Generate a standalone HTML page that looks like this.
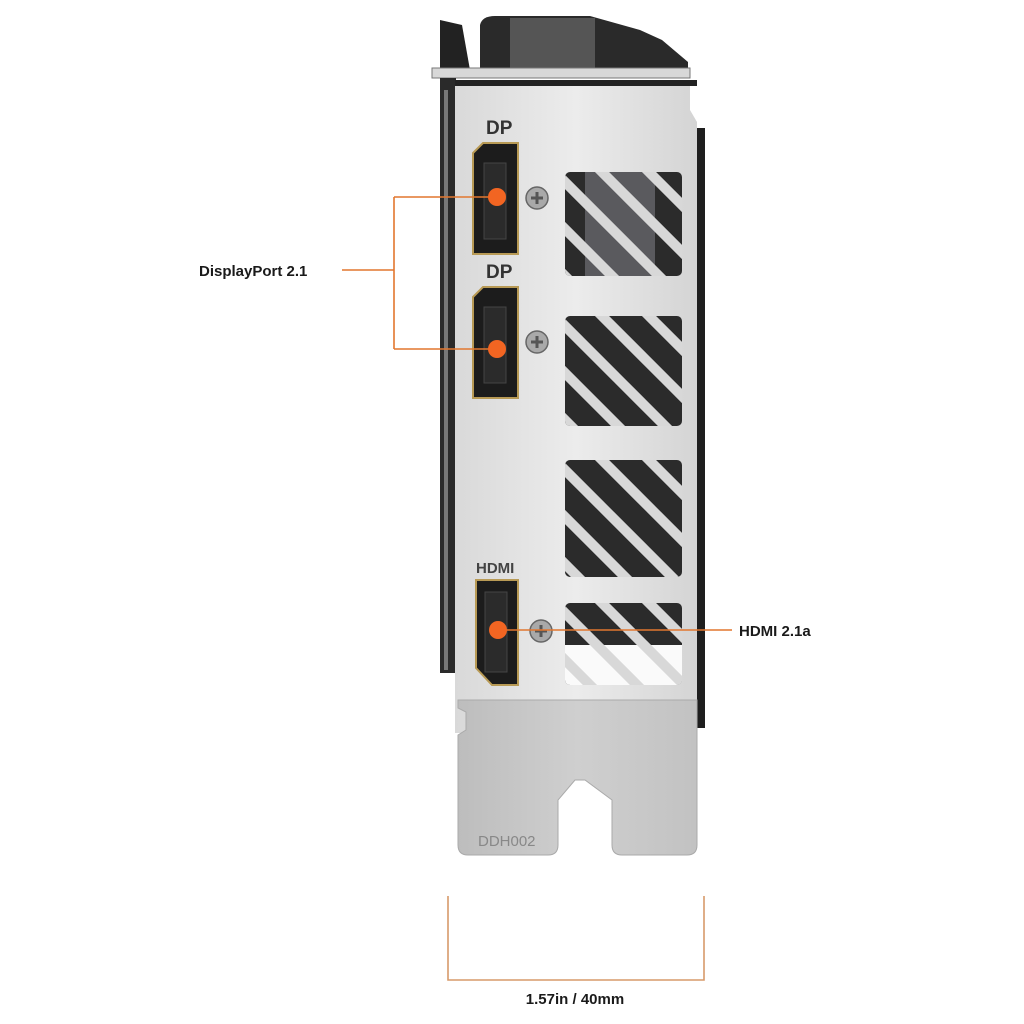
<!DOCTYPE html>
<html><head><meta charset="utf-8"><style>
html,body{margin:0;padding:0;background:#fff;}
svg{display:block}
text{font-family:"Liberation Sans",sans-serif;font-weight:bold;fill:#1a1a1a}
</style></head><body>
<svg width="1024" height="1024" viewBox="0 0 1024 1024" xmlns="http://www.w3.org/2000/svg">
<defs>
<linearGradient id="plate" x1="0" x2="1" y1="0" y2="0">
<stop offset="0" stop-color="#d9d9d9"/><stop offset="0.5" stop-color="#ececec"/><stop offset="1" stop-color="#d4d4d4"/>
</linearGradient>
<linearGradient id="low" x1="0" x2="1">
<stop offset="0" stop-color="#bdbdbd"/><stop offset="0.5" stop-color="#cfcfcf"/><stop offset="1" stop-color="#c2c2c2"/>
</linearGradient>
<g id="bars">
<line x1="-50" y1="-40" x2="200" y2="210" />
<line x1="-50" y1="-87" x2="200" y2="163" />
<line x1="-50" y1="-134" x2="200" y2="116" />
<line x1="-50" y1="7" x2="200" y2="257" />
<line x1="-50" y1="54" x2="200" y2="304" />
</g>
<clipPath id="v1"><rect x="565" y="172" width="117" height="104" rx="5"/></clipPath>
<clipPath id="v2"><rect x="565" y="316" width="117" height="110" rx="5"/></clipPath>
<clipPath id="v3"><rect x="565" y="460" width="117" height="117" rx="5"/></clipPath>
<clipPath id="v4"><rect x="565" y="603" width="117" height="82" rx="5"/></clipPath>
</defs>

<!-- top shroud -->
<path d="M440 20 L462 25 L470 70 L440 70 Z" fill="#222"/>
<path d="M480 25 Q482 16 495 16 L590 16 L640 30 L662 40 L688 62 L688 72 L480 72 Z" fill="#2a2a2a"/>
<rect x="510" y="18" width="85" height="52" fill="#555"/>
<rect x="432" y="68" width="258" height="10" fill="#d8d8d8" stroke="#777" stroke-width="1"/>
<!-- left black strip -->
<rect x="440" y="78" width="16" height="595" fill="#2a2a2a"/>
<rect x="444" y="90" width="4" height="580" fill="#777"/>
<!-- right dark edge -->
<rect x="697" y="128" width="8" height="600" fill="#1e1e1e"/>
<!-- main plate -->
<path d="M455 80 L690 80 L690 110 L697 122 L697 733 L455 733 Z" fill="url(#plate)"/>
<rect x="455" y="80" width="242" height="6" fill="#222"/>
<!-- lower plate -->
<path d="M458 700 L697 700 L697 845 Q697 855 687 855 L622 855 Q612 855 612 845 L612 800 L585 780 L575 780 L558 800 L558 845 Q558 855 548 855 L468 855 Q458 855 458 845 L458 735 L466 730 L466 712 L458 708 Z" fill="url(#low)" stroke="#aaa" stroke-width="1"/>
<text x="478" y="846" font-size="15" style="font-weight:normal;fill:#888">DDH002</text>

<!-- vents -->
<g stroke="#d8d8d8" stroke-width="10">
<g clip-path="url(#v1)"><rect x="565" y="172" width="117" height="104" fill="#2b2b2b" stroke="none"/><rect x="585" y="172" width="70" height="104" fill="#5a5a5e" stroke="none"/><use href="#bars" transform="translate(565,172)"/></g>
<g clip-path="url(#v2)"><rect x="565" y="316" width="117" height="110" fill="#2b2b2b" stroke="none"/><use href="#bars" transform="translate(565,316)"/></g>
<g clip-path="url(#v3)"><rect x="565" y="460" width="117" height="117" fill="#2b2b2b" stroke="none"/><use href="#bars" transform="translate(565,460)"/></g>
<g clip-path="url(#v4)"><rect x="565" y="603" width="117" height="82" fill="#2b2b2b" stroke="none"/><rect x="565" y="645" width="117" height="40" fill="#fafafa" stroke="none"/><use href="#bars" transform="translate(565,603)"/></g>
</g>

<!-- ports -->
<g>
<text x="486" y="134" font-size="19" style="fill:#333">DP</text>
<path d="M473 153 L483 143 L518 143 L518 254 L473 254 Z" fill="#1c1c1c" stroke="#b89a55" stroke-width="2"/>
<rect x="484" y="163" width="22" height="76" fill="#2b2b2b" stroke="#444"/>
<text x="486" y="278" font-size="19" style="fill:#333">DP</text>
<path d="M473 297 L483 287 L518 287 L518 398 L473 398 Z" fill="#1c1c1c" stroke="#b89a55" stroke-width="2"/>
<rect x="484" y="307" width="22" height="76" fill="#2b2b2b" stroke="#444"/>
<text x="476" y="573" font-size="15" style="fill:#444">HDMI</text>
<path d="M476 580 L518 580 L518 685 L492 685 L476 668 Z" fill="#1c1c1c" stroke="#b89a55" stroke-width="2"/>
<rect x="485" y="592" width="22" height="80" fill="#2b2b2b" stroke="#444"/>
</g>
<!-- screws -->
<g fill="#a9a9a9" stroke="#666" stroke-width="1.5">
<circle cx="537" cy="198" r="11"/><circle cx="537" cy="342" r="11"/><circle cx="541" cy="631" r="11"/>
</g>
<g stroke="#555" stroke-width="3">
<path d="M531 198 H543 M537 192 V204"/><path d="M531 342 H543 M537 336 V348"/><path d="M535 631 H547 M541 625 V637"/>
</g>

<!-- callouts -->
<g stroke="#e2772f" stroke-width="1.6" fill="none">
<path d="M342 270 H394 M394 197 V349 M394 197 H497 M394 349 H497"/>
<path d="M497 630 H732"/>
<path d="M448 896 V980 H704 V896" stroke="#d79a6a"/>
</g>
<g fill="#f26522">
<circle cx="497" cy="197" r="9"/><circle cx="497" cy="349" r="9"/><circle cx="498" cy="630" r="9"/>
</g>
<text x="199" y="276" font-size="15">DisplayPort 2.1</text>
<text x="739" y="636" font-size="15">HDMI 2.1a</text>
<text x="575" y="1004" font-size="15" text-anchor="middle">1.57in / 40mm</text>
</svg>
</body></html>
